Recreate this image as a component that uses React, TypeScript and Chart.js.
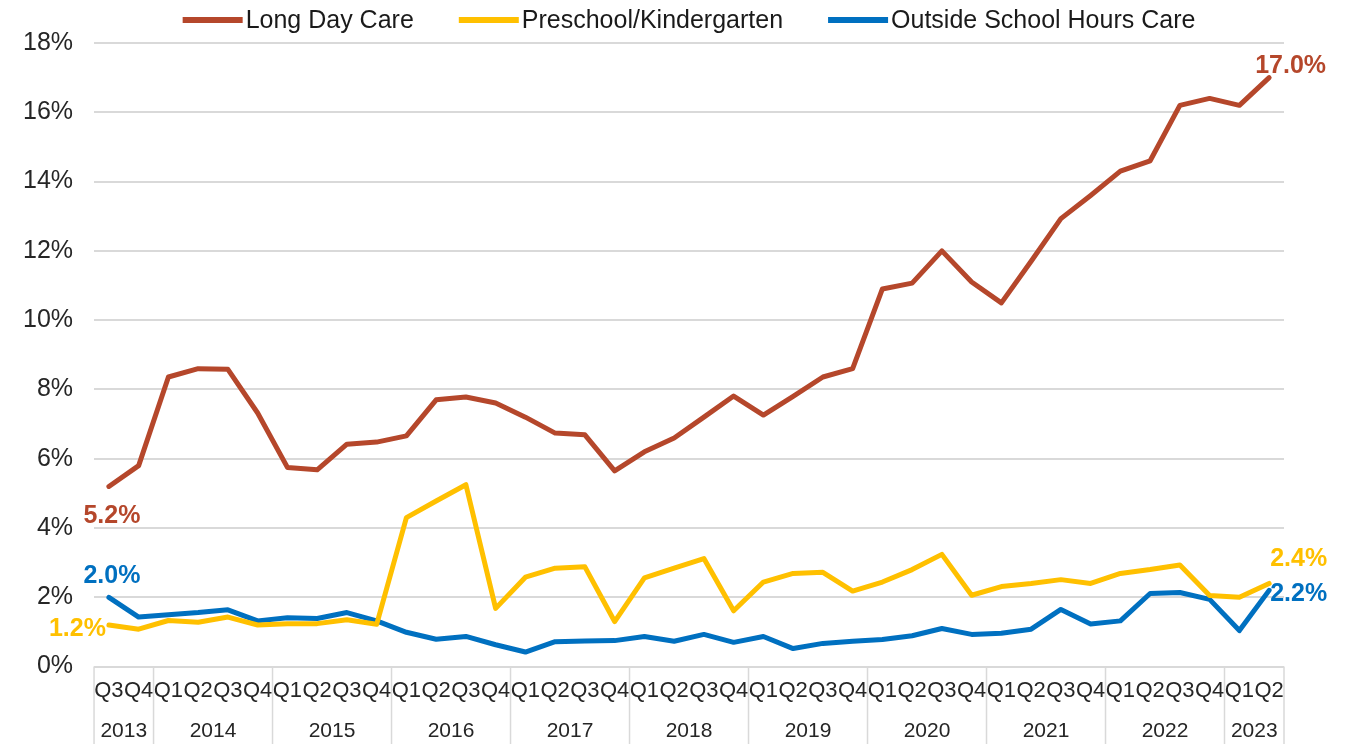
import React, { useEffect, useRef } from 'react';
import { Chart, registerables } from 'chart.js';

Chart.register(...registerables);

const quarters = [
  'Q3', 'Q4',
  'Q1', 'Q2', 'Q3', 'Q4',
  'Q1', 'Q2', 'Q3', 'Q4',
  'Q1', 'Q2', 'Q3', 'Q4',
  'Q1', 'Q2', 'Q3', 'Q4',
  'Q1', 'Q2', 'Q3', 'Q4',
  'Q1', 'Q2', 'Q3', 'Q4',
  'Q1', 'Q2', 'Q3', 'Q4',
  'Q1', 'Q2', 'Q3', 'Q4',
  'Q1', 'Q2', 'Q3', 'Q4',
  'Q1', 'Q2',
];
const years = ['2013', '2014', '2015', '2016', '2017', '2018', '2019', '2020', '2021', '2022', '2023'];
const quartersPerYear = [2, 4, 4, 4, 4, 4, 4, 4, 4, 4, 2];

const longDayCare = [
  5.2, 5.8,
  8.36, 8.6, 8.58, 7.32,
  5.75, 5.68, 6.42, 6.48,
  6.66, 7.7, 7.78, 7.61,
  7.2, 6.74, 6.69, 5.65,
  6.2, 6.6, 7.2, 7.81,
  7.26, 7.8, 8.36, 8.6,
  10.9, 11.07, 12.0, 11.1,
  10.5, 11.7, 12.93, 13.6,
  14.3, 14.6, 16.2, 16.4,
  16.2, 17.0,
];
const preschool = [
  1.2, 1.08,
  1.33, 1.28, 1.43, 1.2,
  1.24, 1.24, 1.35, 1.22,
  4.3, 4.78, 5.25, 1.68,
  2.58, 2.84, 2.88, 1.3,
  2.56, 2.84, 3.12, 1.61,
  2.44, 2.69, 2.72, 2.18,
  2.44, 2.8, 3.24, 2.06,
  2.31, 2.4, 2.51, 2.4,
  2.69, 2.8, 2.93, 2.05,
  2.0, 2.4,
];
const outsideSchoolHours = [
  2.0, 1.43,
  1.5, 1.56, 1.64, 1.32,
  1.41, 1.39, 1.56, 1.32,
  0.99, 0.79, 0.87, 0.63,
  0.42, 0.72, 0.74, 0.75,
  0.87, 0.73, 0.93, 0.7,
  0.87, 0.52, 0.67, 0.73,
  0.78, 0.89, 1.1, 0.93,
  0.96, 1.08, 1.65, 1.23,
  1.32, 2.11, 2.14, 1.94,
  1.04, 2.2,
];

const yMin = 0;
const yMax = 18;
const yStep = 2;

const seriesNames = ['Long Day Care', 'Preschool/Kindergarten', 'Outside School Hours Care'];
const seriesColors = ['#B5472B', '#FFC000', '#0070C0'];

const FONT = '"Liberation Sans", Arial, sans-serif';

// label offsets for first/last point annotations: [dx, dy, align]
const endLabelStyle: Record<number, { first: [number, number, CanvasTextAlign]; last: [number, number, CanvasTextAlign] }> = {
  0: { first: [3, 30, 'center'], last: [-14, -12, 'left'] },
  1: { first: [-3, 4, 'right'], last: [1, -24, 'left'] },
  2: { first: [3, -21, 'center'], last: [1, 4, 'left'] },
};

const customLegend = {
  id: 'customLegend',
  afterDraw(chart: any) {
    const ctx = chart.ctx;
    const area = chart.chartArea;
    ctx.save();
    ctx.font = `25px ${FONT}`;
    ctx.textBaseline = 'middle';
    const boxW = 60;
    const gapText = 3;
    const gapItem = 45;
    const items = chart.data.datasets.map((d: any) => ({
      label: d.label,
      color: d.borderColor,
      w: boxW + gapText + ctx.measureText(d.label).width,
    }));
    const total = items.reduce((s: number, it: any) => s + it.w, 0) + gapItem * (items.length - 1);
    let x = (area.left + area.right) / 2 - total / 2;
    const y = 20;
    items.forEach((it: any) => {
      ctx.fillStyle = it.color;
      ctx.fillRect(x, y - 3, boxW, 6);
      ctx.fillStyle = '#1a1a1a';
      ctx.textAlign = 'left';
      ctx.fillText(it.label, x + boxW + gapText, y + 1);
      x += it.w + gapItem;
    });
    ctx.restore();
  },
};

const yearAxis = {
  id: 'yearAxis',
  afterDraw(chart: any) {
    const ctx = chart.ctx;
    const area = chart.chartArea;
    const xs = chart.scales.x;
    const n = quarters.length;
    const bottom = chart.height;
    ctx.save();
    ctx.strokeStyle = '#D9D9D9';
    ctx.lineWidth = 1.5;
    ctx.font = `21px ${FONT}`;
    ctx.fillStyle = '#262626';
    ctx.textAlign = 'center';
    ctx.textBaseline = 'middle';
    let start = 0;
    years.forEach((yr, k) => {
      const end = start + quartersPerYear[k] - 1;
      const left = start === 0 ? area.left : (xs.getPixelForValue(start - 1) + xs.getPixelForValue(start)) / 2;
      const right = end === n - 1 ? area.right : (xs.getPixelForValue(end) + xs.getPixelForValue(end + 1)) / 2;
      ctx.beginPath();
      ctx.moveTo(left, area.bottom);
      ctx.lineTo(left, bottom);
      ctx.stroke();
      if (end === n - 1) {
        ctx.beginPath();
        ctx.moveTo(right, area.bottom);
        ctx.lineTo(right, bottom);
        ctx.stroke();
      }
      ctx.fillText(yr, (left + right) / 2, 731);
      start = end + 1;
    });
    ctx.restore();
  },
};

const endLabels = {
  id: 'endLabels',
  afterDatasetsDraw(chart: any) {
    const ctx = chart.ctx;
    ctx.save();
    ctx.font = `bold 25px ${FONT}`;
    ctx.textBaseline = 'middle';
    chart.data.datasets.forEach((ds: any, i: number) => {
      const meta = chart.getDatasetMeta(i);
      const st = endLabelStyle[i];
      const pts = meta.data;
      const lastIdx = pts.length - 1;
      ctx.fillStyle = ds.borderColor;
      [[0, st.first], [lastIdx, st.last]].forEach(([idx, s]: any) => {
        const p = pts[idx];
        const v = ds.data[idx] as number;
        ctx.textAlign = s[2];
        ctx.fillText(v.toFixed(1) + '%', p.x + s[0], p.y + s[1]);
      });
    });
    ctx.restore();
  },
};

export default function App() {
  const canvasRef = useRef<HTMLCanvasElement | null>(null);

  useEffect(() => {
    if (!canvasRef.current) return;
    const seriesData = [longDayCare, preschool, outsideSchoolHours];
    const chart = new Chart(canvasRef.current, {
      type: 'line',
      data: {
        labels: quarters,
        datasets: seriesNames.map((name, i) => ({
          label: name,
          data: seriesData[i],
          borderColor: seriesColors[i],
          backgroundColor: seriesColors[i],
          borderWidth: 5,
          pointRadius: 0,
          tension: 0,
          fill: false,
          borderJoinStyle: 'round' as const,
          borderCapStyle: 'round' as const,
        })),
      },
      options: {
        responsive: false,
        animation: false,
        layout: { padding: { top: 43, left: 2, right: 65, bottom: 29 } },
        plugins: {
          legend: { display: false },
          tooltip: { enabled: false },
        },
        scales: {
          x: {
            offset: true,
            grid: { display: false, drawTicks: false },
            border: { display: false },
            ticks: {
              autoSkip: false,
              maxRotation: 0,
              minRotation: 0,
              padding: 11,
              color: '#262626',
              font: { family: FONT, size: 22 },
            },
          },
          y: {
            min: yMin,
            max: yMax,
            grid: { color: '#D9D9D9', lineWidth: 2, drawTicks: false },
            border: { display: false },
            ticks: {
              stepSize: yStep,
              padding: 21,
              color: '#262626',
              font: { family: FONT, size: 25 },
              callback: (v: any) => `${v}%`,
            },
          },
        },
      },
      plugins: [customLegend, yearAxis, endLabels],
    });
    return () => chart.destroy();
  }, []);

  return (
    <div style={{ position: 'fixed', left: 0, top: 0, width: 1349, height: 744, background: '#fff' }}>
      <canvas ref={canvasRef} width={1349} height={744} />
    </div>
  );
}
